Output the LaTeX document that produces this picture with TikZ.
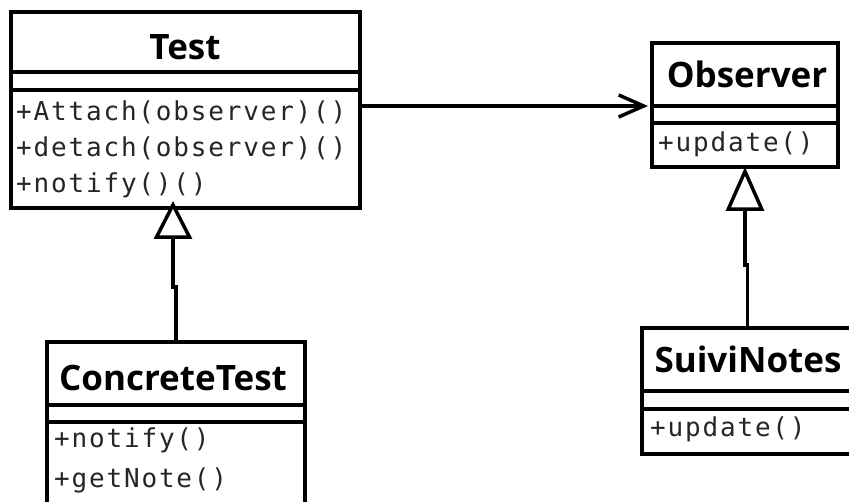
\documentclass[tikz,border=0pt]{standalone}
\usepackage{fontspec}
\usetikzlibrary{arrows.meta}
\newfontfamily\umltitle{Open Sans}
\newfontfamily\umlmono[LetterSpace=7]{DejaVu Sans Mono}
\begin{document}
\begin{tikzpicture}[x=1pt,y=-1pt,
  classbox/.style={draw, line width=3.5pt, fill=white, inner sep=0pt, outer sep=0pt,
    anchor=north west},
  divider/.style={line width=3.5pt},
  classname/.style={inner sep=0pt, anchor=base, font=\umltitle\bfseries\fontsize{35}{35}\selectfont},
  member/.style={inner sep=0pt, anchor=base west, text=black!85, font=\umlmono\fontsize{26}{26}\selectfont},
  assoc/.style={line width=3.5pt, -{Straight Barb[length=25pt,width=22pt]}},
  inherit/.style={line width=3.5pt, -{Triangle[open,length=#1,width=38pt,fill=white]}},
  inherit/.default=40pt]
\clip (0,0) rectangle (849,502);
\fill[white] (0,0) rectangle (849,502);

% class Test
\node[classbox, minimum width=349pt, minimum height=196pt] (test) at (11,12) {};
\draw[divider] (test.west |- 0,72) -- (test.east |- 0,72);
\draw[divider] (test.west |- 0,90) -- (test.east |- 0,90);
\node[classname] (testname) at (185,60) {Test};
\node[member] (testm1) at (16,121) {+Attach(observer)()};
\node[member] (testm2) at (16,157) {+detach(observer)()};
\node[member] (testm3) at (16,193) {+notify()()};

% class Observer
\node[classbox, minimum width=186pt, minimum height=124pt] (obs) at (652,43) {};
\draw[divider] (obs.west |- 0,106) -- (obs.east |- 0,106);
\draw[divider] (obs.west |- 0,123) -- (obs.east |- 0,123);
\node[classname] (obsname) at (747,88) {Observer};
\node[member] (obsm1) at (658,152) {+update()};

% class ConcreteTest (continues past the lower edge)
\node[classbox, minimum width=258pt, minimum height=180pt] (ctest) at (47,342) {};
\draw[divider] (ctest.west |- 0,405) -- (ctest.east |- 0,405);
\draw[divider] (ctest.west |- 0,422) -- (ctest.east |- 0,422);
\node[classname] (ctestname) at (173,391) {ConcreteTest};
\node[member] (ctestm1) at (54,448) {+notify()};
\node[member] (ctestm2) at (54,487) {+getNote()};

% class SuiviNotes (continues past the right edge)
\node[classbox, minimum width=211pt, minimum height=126pt] (snotes) at (642,328) {};
\draw[divider] (snotes.west |- 0,391) -- (snotes.east |- 0,391);
\draw[divider] (snotes.west |- 0,409) -- (snotes.east |- 0,409);
\node[classname] (snotesname) at (748,373) {SuiviNotes};
\node[member] (snotesm1) at (650,437) {+update()};

% association Test -> Observer
\draw[assoc, shorten >=4pt] (test.east |- 0,106) -- (obs.west |- 0,106);

% generalisations
\draw[inherit=38pt, shorten >=-7pt] (ctest.north) -- (ctest.north |- 0,287) -- (173,287) -- (173,0 |- test.south);
\draw[inherit=44pt] (snotes.north) -- (snotes.north |- 0,265) -- (obs.south |- 0,265) -- (obs.south);
\end{tikzpicture}
\end{document}
